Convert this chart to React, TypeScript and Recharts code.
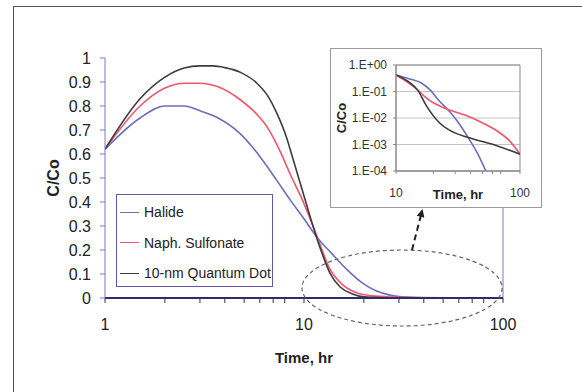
import React from "react";
import {
  CartesianGrid,
  Label,
  Line,
  LineChart,
  ReferenceArea,
  ReferenceLine,
  XAxis,
  YAxis,
} from "recharts";

const BLUE = "#6d6dbd";
const RED = "#f0556a";
const BLACK = "#3c3c3c";
const FONT = "Arial, 'Liberation Sans', sans-serif";

// main chart (linear C/Co vs log time)
const halideT = [1, 1.5, 2, 2.5, 3, 3.7, 4.7, 6, 7.3, 8.5, 10, 11.7, 13.8, 16.6, 19.6, 23, 27, 31, 40];
const halideC = [0.62, 0.75, 0.8, 0.8, 0.78, 0.75, 0.69, 0.59, 0.49, 0.41, 0.33, 0.25, 0.185, 0.115, 0.063, 0.03, 0.012, 0.005, 0.001];

const naphT = [1, 1.5, 2, 2.5, 3, 3.7, 4.8, 5.8, 6.5, 7.4, 8.7, 9.8, 10.5, 11.7, 13.5, 15.5, 18, 22, 28, 38, 50];
const naphC = [0.62, 0.8, 0.875, 0.895, 0.895, 0.88, 0.825, 0.765, 0.715, 0.63, 0.5, 0.41, 0.35, 0.25, 0.12, 0.058, 0.025, 0.009, 0.004, 0.002, 0.001];

const qdT = [1, 1.5, 2, 2.5, 3, 3.5, 4, 4.8, 5.8, 6.6, 7.3, 8.2, 8.8, 9.8, 11, 11.7, 12.4, 13.5, 15.2, 17.4, 20, 25];
const qdC = [0.62, 0.83, 0.92, 0.958, 0.967, 0.967, 0.96, 0.94, 0.895, 0.84, 0.77, 0.665, 0.58, 0.45, 0.31, 0.24, 0.18, 0.104, 0.046, 0.018, 0.005, 0.001];

// inset (log-log tail)
const halideTailT = [10, 12.5, 16, 19, 22, 27.5, 32, 38, 45, 53];
const halideTailC = [0.42, 0.31, 0.21, 0.11, 0.048, 0.016, 0.0065, 0.0019, 0.0005, 0.0001];

const naphTailT = [10, 14, 18, 23, 27, 36, 50, 65, 82, 100];
const naphTailC = [0.42, 0.15, 0.052, 0.027, 0.02, 0.013, 0.0065, 0.0033, 0.0014, 0.00043];

const qdTailT = [10, 12.5, 15, 17.5, 22.5, 29.5, 39, 65, 100];
const qdTailC = [0.42, 0.24, 0.11, 0.03, 0.0065, 0.0028, 0.0018, 0.0009, 0.00043];

const mainXTicks = [1, 2, 3, 4, 5, 6, 7, 8, 9, 10, 20, 30, 40, 50, 60, 70, 80, 90, 100];
const mainYTicks = [0, 0.1, 0.2, 0.3, 0.4, 0.5, 0.6, 0.7, 0.8, 0.9, 1];
const insetXTicks = [10, 20, 30, 40, 50, 60, 70, 80, 90, 100];
const insetYTicks = [0.0001, 0.001, 0.01, 0.1, 1];
const labelledX = [1, 10, 100];

const seriesNames = ["Halide", "Naph. Sulfonate", "10-nm Quantum Dot"];
const seriesColors = [BLUE, RED, BLACK];

const zip = (t: number[], c: number[]) => t.map((v, i) => ({ t: v, c: c[i] }));

const mainSeries = [zip(halideT, halideC), zip(naphT, naphC), zip(qdT, qdC)];
const tailSeries = [zip(halideTailT, halideTailC), zip(naphTailT, naphTailC), zip(qdTailT, qdTailC)];

const sciLabel = (v: number) => {
  const e = Math.round(Math.log10(v));
  return "1.E" + (e >= 0 ? "+" : "-") + String(Math.abs(e)).padStart(2, "0");
};

function Legend() {
  return (
    <div
      style={{
        position: "absolute",
        left: 116,
        top: 194,
        width: 155,
        height: 91,
        border: "1.5px solid #5c5ca6",
        background: "#fff",
        fontSize: 14,
        color: "#222",
      }}
    >
      {seriesNames.map((name, i) => (
        <div
          key={name}
          style={{ position: "absolute", left: 3, top: 8 + i * 30.5, height: 18, display: "flex", alignItems: "center" }}
        >
          <span style={{ display: "inline-block", width: 19, height: 0, borderTop: `1.5px solid ${seriesColors[i]}`, marginRight: 5 }} />
          <span style={{ whiteSpace: "nowrap" }}>{name}</span>
        </div>
      ))}
    </div>
  );
}

function Inset() {
  return (
    <div
      style={{
        position: "absolute",
        left: 330,
        top: 48,
        width: 210,
        height: 158,
        border: "1px solid #9a9a9a",
        background: "#fff",
      }}
    >
      <LineChart width={210} height={158} margin={{ top: 16, right: 21, bottom: 6, left: 5 }}>
        <CartesianGrid horizontal vertical={false} stroke="#c4c4c4" />
        <ReferenceArea x1={10} x2={100} y1={0.0001} y2={1} fill="none" stroke="#8a8a8a" strokeWidth={1} />
        <XAxis
          dataKey="t"
          type="number"
          scale="log"
          domain={[10, 100]}
          ticks={insetXTicks}
          allowDataOverflow
          height={30}
          tickSize={3}
          tickMargin={14}
          axisLine={{ stroke: "#8a8a8a" }}
          tickLine={{ stroke: "#8a8a8a" }}
          tick={{ fontSize: 12, fill: "#333" }}
          tickFormatter={(v: number) => (v === 10 || v === 100 ? String(v) : "")}
        >
          <Label value="Time, hr" position="insideBottom" offset={2} style={{ fontSize: 13, fontWeight: "bold", fill: "#222" }} />
        </XAxis>
        <YAxis
          type="number"
          scale="log"
          domain={[0.0001, 1]}
          ticks={insetYTicks}
          allowDataOverflow
          width={60}
          tickSize={3}
          tickMargin={6}
          axisLine={{ stroke: "#8a8a8a" }}
          tickLine={{ stroke: "#8a8a8a" }}
          tick={{ fontSize: 12, fill: "#333" }}
          tickFormatter={sciLabel}
        >
          <Label
            value="C/Co"
            angle={-90}
            position="insideLeft"
            offset={5}
            style={{ fontSize: 13, fontWeight: "bold", fill: "#222", textAnchor: "middle" }}
          />
        </YAxis>
        {tailSeries.map((d, i) => (
          <Line
            key={seriesNames[i]}
            data={d}
            dataKey="c"
            type="monotone"
            stroke={seriesColors[i]}
            strokeWidth={1.6}
            dot={false}
            isAnimationActive={false}
          />
        ))}
      </LineChart>
    </div>
  );
}

export default function App() {
  return (
    <div
      style={{
        position: "absolute",
        left: 0,
        top: 0,
        width: 582,
        height: 392,
        overflow: "hidden",
        background: "#fff",
        fontFamily: FONT,
      }}
    >
      <div
        style={{
          position: "absolute",
          left: 13,
          top: 6,
          width: 620,
          height: 420,
          borderLeft: "1px solid #555",
          borderTop: "1px solid #555",
        }}
      />
      <div style={{ position: "absolute", left: 0, top: 0 }}>
        <LineChart width={582} height={392} margin={{ top: 58, right: 79, bottom: 24, left: 45 }}>
          <XAxis
            dataKey="t"
            type="number"
            scale="log"
            domain={[1, 100]}
            ticks={mainXTicks}
            allowDataOverflow
            height={70}
            tickSize={5}
            tickMargin={16}
            axisLine={{ stroke: "#2e2e66", strokeWidth: 2 }}
            tickLine={{ stroke: "#2e2e66" }}
            tick={{ fontSize: 16, fill: "#222" }}
            tickFormatter={(v: number) => (labelledX.includes(v) ? String(v) : "")}
          >
            <Label value="Time, hr" position="insideBottom" offset={5} style={{ fontSize: 15, fontWeight: "bold", fill: "#222" }} />
          </XAxis>
          <YAxis
            type="number"
            domain={[0, 1]}
            ticks={mainYTicks}
            width={60}
            tickSize={5}
            tickMargin={9}
            axisLine={{ stroke: "#7a7ac4" }}
            tickLine={{ stroke: "#7a7ac4" }}
            tick={{ fontSize: 16, fill: "#222" }}
            tickFormatter={(v: number) => String(v)}
          >
            <Label
              value="C/Co"
              angle={-90}
              position="insideLeft"
              offset={8}
              style={{ fontSize: 16, fontWeight: "bold", fill: "#222", textAnchor: "middle" }}
            />
          </YAxis>
          <ReferenceLine x={100} stroke="#7a7ac4" />
          {mainSeries.map((d, i) => (
            <Line
              key={seriesNames[i]}
              data={d}
              dataKey="c"
              type="monotone"
              stroke={seriesColors[i]}
              strokeWidth={1.6}
              dot={false}
              isAnimationActive={false}
            />
          ))}
        </LineChart>
      </div>
      <svg width={582} height={392} style={{ position: "absolute", left: 0, top: 0, pointerEvents: "none" }}>
        <defs>
          <marker id="arrowHead" markerWidth="8" markerHeight="8" refX="6" refY="4" orient="auto" markerUnits="userSpaceOnUse">
            <path d="M0,0 L8,4 L0,8 z" fill="#222" />
          </marker>
        </defs>
        <ellipse cx={402} cy={288} rx={100} ry={38} fill="none" stroke="#666" strokeWidth={1.2} strokeDasharray="4 3" />
        <line x1={412} y1={250} x2={422} y2={211} stroke="#222" strokeWidth={2} strokeDasharray="6 4" markerEnd="url(#arrowHead)" />
      </svg>
      <Legend />
      <Inset />
    </div>
  );
}
